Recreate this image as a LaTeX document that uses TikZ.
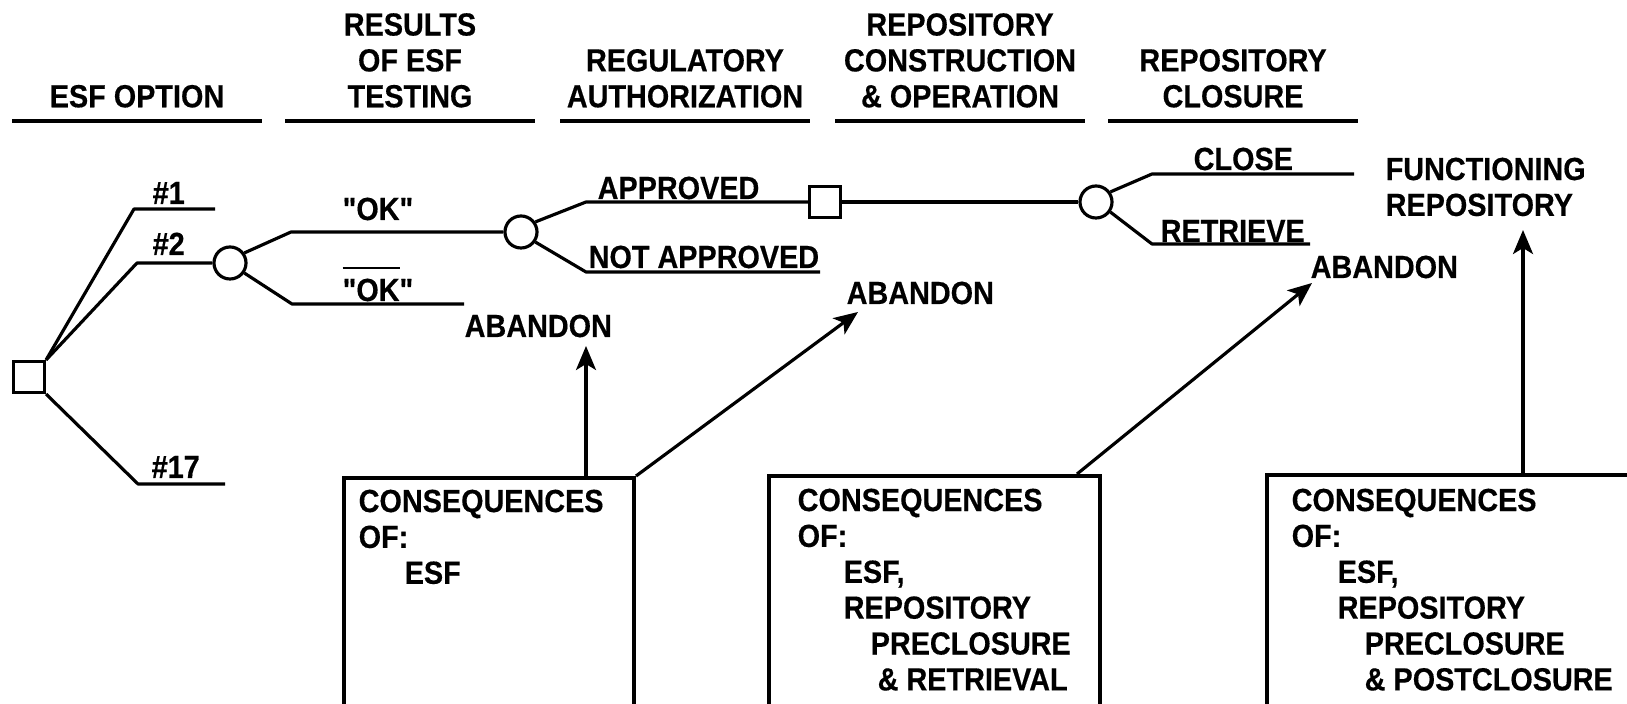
\documentclass[tikz,border=0pt]{standalone}
\usepackage{fontspec}
\newfontfamily\diagfont{Liberation Sans}[FakeStretch=0.9,BoldFeatures={FakeStretch=0.9,FakeBold=0.4}]
\usetikzlibrary{arrows.meta, shapes}

\begin{document}
\begin{tikzpicture}[x=0.01cm, y=-0.01cm,
	font=\diagfont\bfseries\fontsize{9.1pt}{10.2pt}\selectfont,
	tree/.style={line width=0.9pt, line join=round},
	rule/.style={line width=1.2pt},
	chance/.style={circle, draw, line width=0.9pt, minimum size=0.32cm, inner sep=0pt},
	decide/.style={rectangle, draw, line width=0.9pt, minimum size=0.31cm, inner sep=0pt},
	lbl/.style={inner sep=0pt, anchor=base west},
	head/.style={inner sep=0pt, anchor=south, align=center, text depth=0pt},
	conbox/.style={rectangle, draw, line width=1.1pt, anchor=north west, inner sep=0pt},
	contxt/.style={inner sep=0pt, anchor=north west, align=left},
	pointer/.style={line width=0.9pt, -{Stealth[length=0.24cm, width=0.2cm, inset=0.06cm]}}]
	\useasboundingbox (0,0) rectangle (1627,704);
	\def\ind{0.46cm}
	\def\indd{0.73cm}

	% stage headings
	\foreach \x/\txt [count=\i] in {12/{ESF OPTION}, 285/{RESULTS\\OF ESF\\TESTING}, 560/{REGULATORY\\AUTHORIZATION}, 835/{REPOSITORY\\CONSTRUCTION\\\& OPERATION}, 1108/{REPOSITORY\\CLOSURE}} {
		\node[head] (head\i) at (\x+125,108) {\txt};
		\draw[rule] (\x,121) -- ++(250,0);
	}

	% decision and chance nodes
	\node[decide] (optsq) at (29,377) {};
	\node[chance] (testc) at (230,263) {};
	\node[chance] (authc) at (521,232) {};
	\node[decide] (buildsq) at (825,202) {};
	\node[chance] (closec) at (1096,202) {};

	\coordinate (opt1) at (134,209);	\coordinate (opt1e) at (215,209);
	\coordinate (opt2) at (137,263);
	\coordinate (opt17) at (138,484);	\coordinate (opt17e) at (225,484);
	\draw[tree] (optsq.north east) -- (opt1) -- (opt1e);
	\draw[tree] (optsq.north east) -- (opt2) -- (testc);
	\draw[tree] (optsq.south east) -- (opt17) -- (opt17e);

	\coordinate (ok) at (291,232);
	\coordinate (nok) at (292,304);		\coordinate (noke) at (464,304);
	\draw[tree] (testc.35) -- (ok) -- (authc);
	\draw[tree] (testc.-35) -- (nok) -- (noke);

	\coordinate (appr) at (586,202);
	\coordinate (nappr) at (586,272);	\coordinate (nappre) at (820,272);
	\draw[tree] (authc.35) -- (appr) -- (buildsq);
	\draw[tree] (authc.-35) -- (nappr) -- (nappre);
	\draw[tree] (buildsq) -- (closec);

	\coordinate (cls) at (1152,174);	\coordinate (clse) at (1354,174);
	\coordinate (ret) at (1152,244);	\coordinate (rete) at (1310,244);
	\draw[tree] (closec.35) -- (cls) -- (clse);
	\draw[tree] (closec.-35) -- (ret) -- (rete);

	% branch labels
	\node[lbl] (n1) at (152,204) {\#1};
	\node[lbl] (n2) at (152,255) {\#2};
	\node[lbl] (n17) at (151,478) {\#17};
	\node[lbl] (okl) at (342,220) {"OK"};
	\node[lbl] (nokl) at (342,301) {\setbox0=\hbox{"OK}\rlap{\rule[9.1pt]{\wd0}{0.6pt}}"OK"};
	\node[lbl] (apprl) at (597,199) {APPROVED};
	\node[lbl] (napprl) at (588,268) {NOT APPROVED};
	\node[lbl] (clsl) at (1193,170) {CLOSE};
	\node[lbl] (retl) at (1160,242) {RETRIEVE};
	\node[lbl] (ab1) at (464,337) {ABANDON};
	\node[lbl] (ab2) at (846,304) {ABANDON};
	\node[lbl] (ab3) at (1310,278) {ABANDON};
	\node[contxt] (func) at (1385,157) {FUNCTIONING\\REPOSITORY};

	% consequence boxes
	\node[conbox, minimum width=2.9cm, minimum height=2.44cm] (box1) at (342,476) {};
	\node[conbox, minimum width=3.31cm, minimum height=2.46cm] (box2) at (767,474) {};
	\node[conbox, minimum width=3.8cm, minimum height=2.47cm] (box3) at (1265,473) {};
	\node[contxt] (box1txt) at (358,489) {CONSEQUENCES\\OF:\\\hspace*{\ind}ESF};
	\node[contxt] (box2txt) at (797,488) {CONSEQUENCES\\OF:\\\hspace*{\ind}ESF,\\\hspace*{\ind}REPOSITORY\\\hspace*{\indd}PRECLOSURE\\\hspace*{0.8cm}\& RETRIEVAL};
	\node[contxt] (box3txt) at (1291,488) {CONSEQUENCES\\OF:\\\hspace*{\ind}ESF,\\\hspace*{\ind}REPOSITORY\\\hspace*{\indd}PRECLOSURE\\\hspace*{\indd}\& POSTCLOSURE};

	% outcome arrows
	\coordinate (tip1) at (586,346);
	\coordinate (tip2) at (858,312);
	\coordinate (tip3) at (1312,283);
	\coordinate (tip4) at (1523,230);
	\draw[pointer] (box1.north -| tip1) -- (tip1);
	\draw[pointer] (box1.north east) -- (tip2);
	\draw[pointer] ([xshift=-0.25cm]box2.north east) -- (tip3);
	\draw[pointer] (box3.north -| tip4) -- (tip4);
\end{tikzpicture}
\end{document}
